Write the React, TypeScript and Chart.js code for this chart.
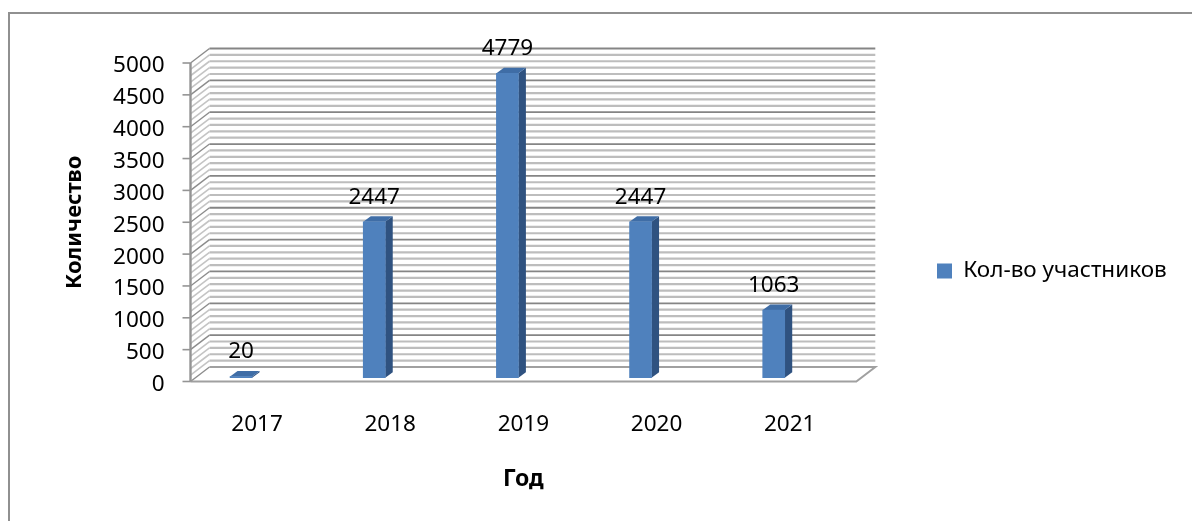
import React, { useEffect, useRef } from "react";
import { Chart, registerables } from "chart.js";

Chart.register(...registerables);

const categories = ["2017", "2018", "2019", "2020", "2021"];
const participants = [20, 2447, 4779, 2447, 1063];
const seriesName = "Кол-во участников";
const xTitle = "Год";
const yTitle = "Количество";
const yMax = 5000;
const majorStep = 500;
const minorStep = 100;

const FONT = '"Noto Sans", sans-serif';
const DX = 19;
const DY = 14.5;
const BAR_SHIFT_X = -16;
const BAR_SHIFT_Y = -3.8;
const BAR_DEPTH_X = 7.5;
const BAR_DEPTH_Y = 5.5;

const walls3d = {
  id: "walls3d",
  afterLayout(chart: any) {
    const leg = chart.legend;
    const w = leg.width;
    const h = leg.height;
    leg.left = 929;
    leg.right = leg.left + w;
    leg.top = 271 - h / 2;
    leg.bottom = leg.top + h;
  },
  beforeDatasetsDraw(chart: any) {
    const { ctx, chartArea: a, scales } = chart;
    const y = scales.y;
    ctx.save();
    for (let v = 0; v <= yMax; v += minorStep) {
      const major = v % majorStep === 0;
      const p = y.getPixelForValue(v);
      if (v !== 0) {
        ctx.strokeStyle = major ? "#858585" : "#bdbdbd";
        ctx.lineWidth = major ? 1.8 : 2.2;
        ctx.beginPath();
        ctx.moveTo(a.left + DX, p - DY);
        ctx.lineTo(a.right + DX, p - DY);
        ctx.stroke();
      }
      ctx.strokeStyle = major ? "#8c8c8c" : "#c4c4c4";
      ctx.lineWidth = major ? 1.4 : 1.6;
      ctx.beginPath();
      ctx.moveTo(a.left, p);
      ctx.lineTo(a.left + DX, p - DY);
      ctx.stroke();
    }
    const y0 = y.getPixelForValue(0);
    const yT = y.getPixelForValue(yMax);
    ctx.strokeStyle = "#a0a0a0";
    ctx.lineWidth = 2;
    ctx.beginPath();
    ctx.moveTo(a.left + DX, y0 - DY);
    ctx.lineTo(a.right + DX, y0 - DY);
    ctx.lineTo(a.right, y0);
    ctx.lineTo(a.left, y0);
    ctx.stroke();
    ctx.strokeStyle = "#949494";
    ctx.lineWidth = 2.4;
    ctx.beginPath();
    ctx.moveTo(a.left, yT);
    ctx.lineTo(a.left, y0);
    ctx.stroke();
    ctx.lineWidth = 1.6;
    for (let v = 0; v <= yMax; v += majorStep) {
      const p = y.getPixelForValue(v);
      ctx.beginPath();
      ctx.moveTo(a.left - 8, p);
      ctx.lineTo(a.left, p);
      ctx.stroke();
    }
    ctx.restore();
  },
  beforeDatasetDraw(chart: any) {
    const { ctx } = chart;
    ctx.save();
    ctx.translate(BAR_SHIFT_X, BAR_SHIFT_Y);
    chart.getDatasetMeta(0).data.forEach((bar: any) => {
      const w = bar.width / 2;
      const l = bar.x - w;
      const r = bar.x + w;
      ctx.fillStyle = "#2f5280";
      ctx.beginPath();
      ctx.moveTo(r, bar.y);
      ctx.lineTo(r + BAR_DEPTH_X, bar.y - BAR_DEPTH_Y);
      ctx.lineTo(r + BAR_DEPTH_X, bar.base - BAR_DEPTH_Y);
      ctx.lineTo(r, bar.base);
      ctx.closePath();
      ctx.fill();
      ctx.fillStyle = "#3f6da6";
      ctx.beginPath();
      ctx.moveTo(l, bar.y);
      ctx.lineTo(l + BAR_DEPTH_X, bar.y - BAR_DEPTH_Y);
      ctx.lineTo(r + BAR_DEPTH_X, bar.y - BAR_DEPTH_Y);
      ctx.lineTo(r, bar.y);
      ctx.closePath();
      ctx.fill();
    });
  },
  afterDatasetDraw(chart: any) {
    chart.ctx.restore();
  },
  afterDatasetsDraw(chart: any) {
    const { ctx } = chart;
    ctx.save();
    ctx.fillStyle = "#000";
    ctx.font = `22.5px ${FONT}`;
    ctx.textAlign = "center";
    ctx.textBaseline = "middle";
    chart.getDatasetMeta(0).data.forEach((bar: any, i: number) => {
      ctx.fillText(String(participants[i]), bar.x + BAR_SHIFT_X, bar.y + BAR_SHIFT_Y - 24.5);
    });
    ctx.restore();
  },
};

export default function App() {
  const ref = useRef<HTMLCanvasElement>(null);
  useEffect(() => {
    document.body.style.margin = "0";
    const chart = new Chart(ref.current!, {
      type: "bar",
      plugins: [walls3d],
      data: {
        labels: categories,
        datasets: [
          {
            label: seriesName,
            data: participants,
            backgroundColor: "#4f81bd",
            barThickness: 22,
            clip: false,
          } as any,
        ],
      },
      options: {
        animation: false,
        responsive: false,
        layout: { padding: { left: 0, right: 88, top: 63, bottom: 0 } },
        plugins: {
          tooltip: { enabled: false },
          legend: {
            position: "right",
            align: "center",
            labels: {
              boxWidth: 15,
              boxHeight: 15,
              color: "#000",
              font: { family: FONT, size: 22.5 },
              padding: 8,
            },
          },
        },
        scales: {
          x: {
            grid: { display: false },
            border: { display: false },
            afterFit(s: any) {
              s.height = 139.5;
            },
            ticks: { color: "#000", font: { family: FONT, size: 22.5 }, padding: 22, maxRotation: 0 },
            title: { display: true, text: xTitle, color: "#000", font: { family: FONT, size: 23, weight: "bold" }, padding: { top: 18, bottom: 28 } },
          },
          y: {
            min: 0,
            max: yMax,
            grid: { display: false },
            border: { display: false },
            afterFit(s: any) {
              s.width = 190.5;
            },
            ticks: { stepSize: majorStep, color: "#000", font: { family: FONT, size: 22.5 }, padding: 18, labelOffset: 3, callback: (v: any) => String(v) },
            title: { display: true, text: yTitle, color: "#000", font: { family: FONT, size: 22, weight: "bold" }, padding: { top: 62, bottom: 0 } },
          },
        },
      } as any,
    });
    return () => chart.destroy();
  }, []);
  return (
    <div style={{ position: "relative", width: 1192, height: 521, background: "#fff" }}>
      <div style={{ position: "absolute", left: 8, top: 12, right: 0, bottom: 0, borderTop: "2px solid #909090", borderLeft: "2px solid #909090", boxSizing: "border-box" }} />
      <canvas ref={ref} width={1192} height={521} style={{ position: "absolute", left: 0, top: 0, display: "block" }} />
    </div>
  );
}
